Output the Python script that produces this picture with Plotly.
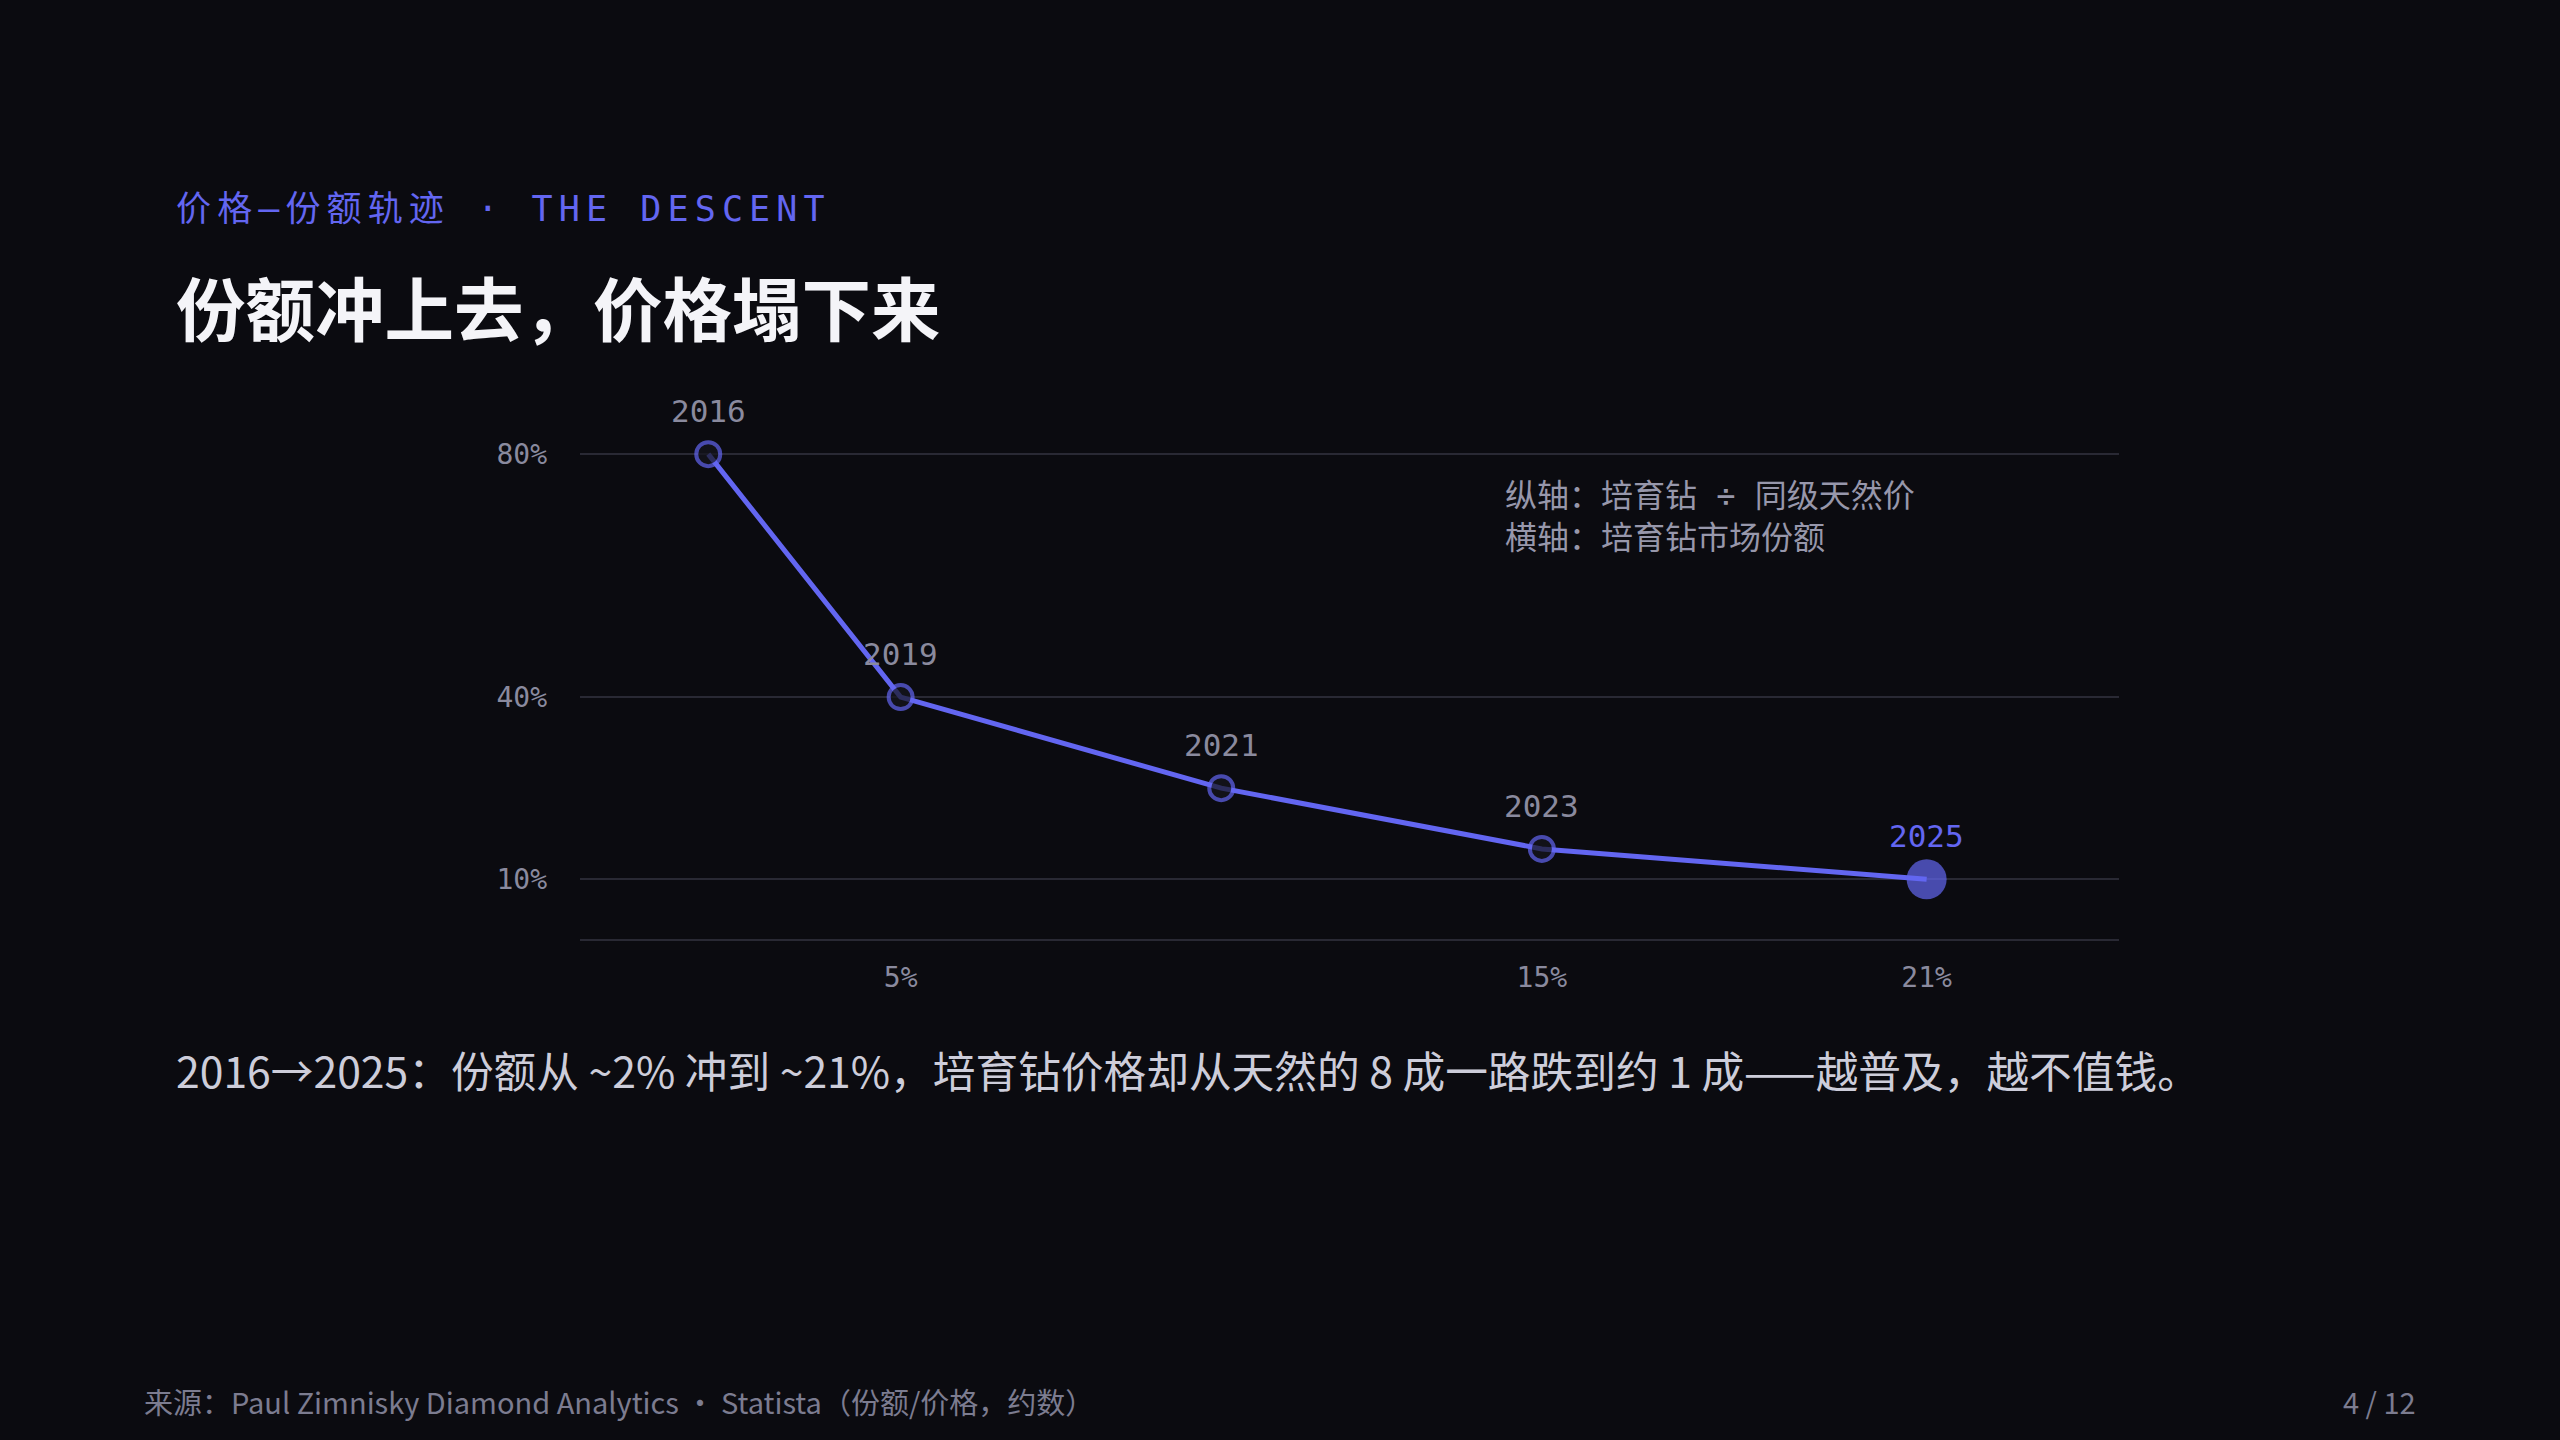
import plotly.graph_objects as go

# ---- data ----
years = ["2016", "2019", "2021", "2023", "2025"]
share_pct = [2, 5, 10, 15, 21]          # lab-grown market share, %
price_ratio_pct = [80, 40, 25, 15, 10]  # lab-grown price / natural price, %

y_tickvals = [10, 40, 80]
y_ticktext = ["10%", "40%", "80%"]
x_tickvals = [5, 15, 21]
x_ticktext = ["5%", "15%", "21%"]

eyebrow = "价格–份额轨迹 · THE DESCENT"
title = "份额冲上去，价格塌下来"
axis_note = "纵轴：培育钻 ÷ 同级天然价<br>横轴：培育钻市场份额"
caption = "2016→2025：份额从 ~2% 冲到 ~21%，培育钻价格却从天然的 8 成一路跌到约 1 成——越普及，越不值钱。"
footer = "来源：Paul Zimnisky Diamond Analytics · Statista（份额/价格，约数）"
page = "4 / 12"

# ---- style ----
BG = "#0b0b10"
INDIGO = "#6366f1"
GRID = "#292934"
TICK = "#8a8a9e"
NOTE = "#9797ab"
CAPTION = "#cdcdda"
FOOTER = "#7c7c90"
TITLE = "#f4f4f8"
MARKER_FILL = "#15151e"
MONO = "DejaVu Sans Mono, Noto Sans CJK SC, monospace"
SANS = "Noto Sans CJK SC, Noto Sans, sans-serif"

W, H = 2560, 1440
PL, PR = 580, 2119          # plot area pixel x
PB = 940                     # y pixel of value 0
Y_MAX = 82
PX_PER_UNIT = (940 - 454) / 80.0
PT = PB - Y_MAX * PX_PER_UNIT


def px_to_paper_x(px):
    return (px - PL) / (PR - PL)


def px_to_paper_y(py):
    return (PB - py) / (PB - PT)


n = len(years)
last = n - 1
marker_sizes = [40 if i == last else 24 for i in range(n)]
marker_colors = [INDIGO if i == last else MARKER_FILL for i in range(n)]
marker_line_w = [0 if i == last else 4 for i in range(n)]

fig = go.Figure()
fig.add_trace(go.Scatter(
    x=share_pct, y=price_ratio_pct, mode="lines+markers",
    line=dict(color=INDIGO, width=5),
    marker=dict(size=marker_sizes, color=marker_colors,
                line=dict(color=INDIGO, width=marker_line_w)),
    cliponaxis=False, hoverinfo="skip", showlegend=False,
))

annotations = []
for i in range(n):
    annotations.append(dict(
        x=share_pct[i], y=price_ratio_pct[i], xref="x", yref="y",
        text=years[i], showarrow=False, yshift=43,
        xanchor="center", yanchor="middle",
        font=dict(family=MONO, size=31, color=INDIGO if i == last else TICK),
    ))


def add_text(text, px, py, size, color, family, xanchor="left", weight=None):
    f = dict(family=family, size=size, color=color)
    if weight:
        f["weight"] = weight
    annotations.append(dict(
        x=px_to_paper_x(px), y=px_to_paper_y(py), xref="paper", yref="paper",
        text=text, showarrow=False, xanchor=xanchor, yanchor="middle",
        align="left" if xanchor == "left" else "right", font=f,
    ))


add_text(eyebrow, 174, 209, 35, INDIGO, MONO)
add_text(title, 174, 305, 69.5, TITLE, SANS, weight=700)
add_text(axis_note, 1503, 517, 32, NOTE, MONO)
add_text(caption, 174, 1069, 42.7, CAPTION, SANS)
add_text(footer, 142, 1401, 29, FOOTER, SANS)
add_text(page, 2418, 1401, 29, FOOTER, SANS, xanchor="right")

fig.update_layout(
    width=W, height=H,
    paper_bgcolor=BG, plot_bgcolor=BG,
    margin=dict(l=PL, r=W - PR, t=PT, b=H - PB, pad=0),
    showlegend=False,
    annotations=annotations,
    xaxis=dict(range=[0, 24], tickvals=x_tickvals, ticktext=x_ticktext,
               showgrid=False, zeroline=False, showline=False, ticks="",
               tickfont=dict(family=MONO, size=28, color=TICK),
               ticklabelstandoff=18, fixedrange=True),
    yaxis=dict(range=[0, Y_MAX], tickvals=y_tickvals, ticktext=y_ticktext,
               showgrid=True, gridcolor=GRID, gridwidth=2,
               zeroline=True, zerolinecolor=GRID, zerolinewidth=2,
               showline=False, ticks="",
               tickfont=dict(family=MONO, size=28, color=TICK),
               ticklabelstandoff=32, fixedrange=True),
)

post = """
document.body.style.margin='0';
document.body.style.background='%s';
var gd = document.getElementById('{plot_id}');
gd.querySelectorAll('text.annotation-text').forEach(function(t){
  if (t.textContent.indexOf('DESCENT') >= 0) { t.style.letterSpacing = '0.175em'; }
});
""" % BG

fig.write_html("out.html", post_script=post, config={"displayModeBar": False})
